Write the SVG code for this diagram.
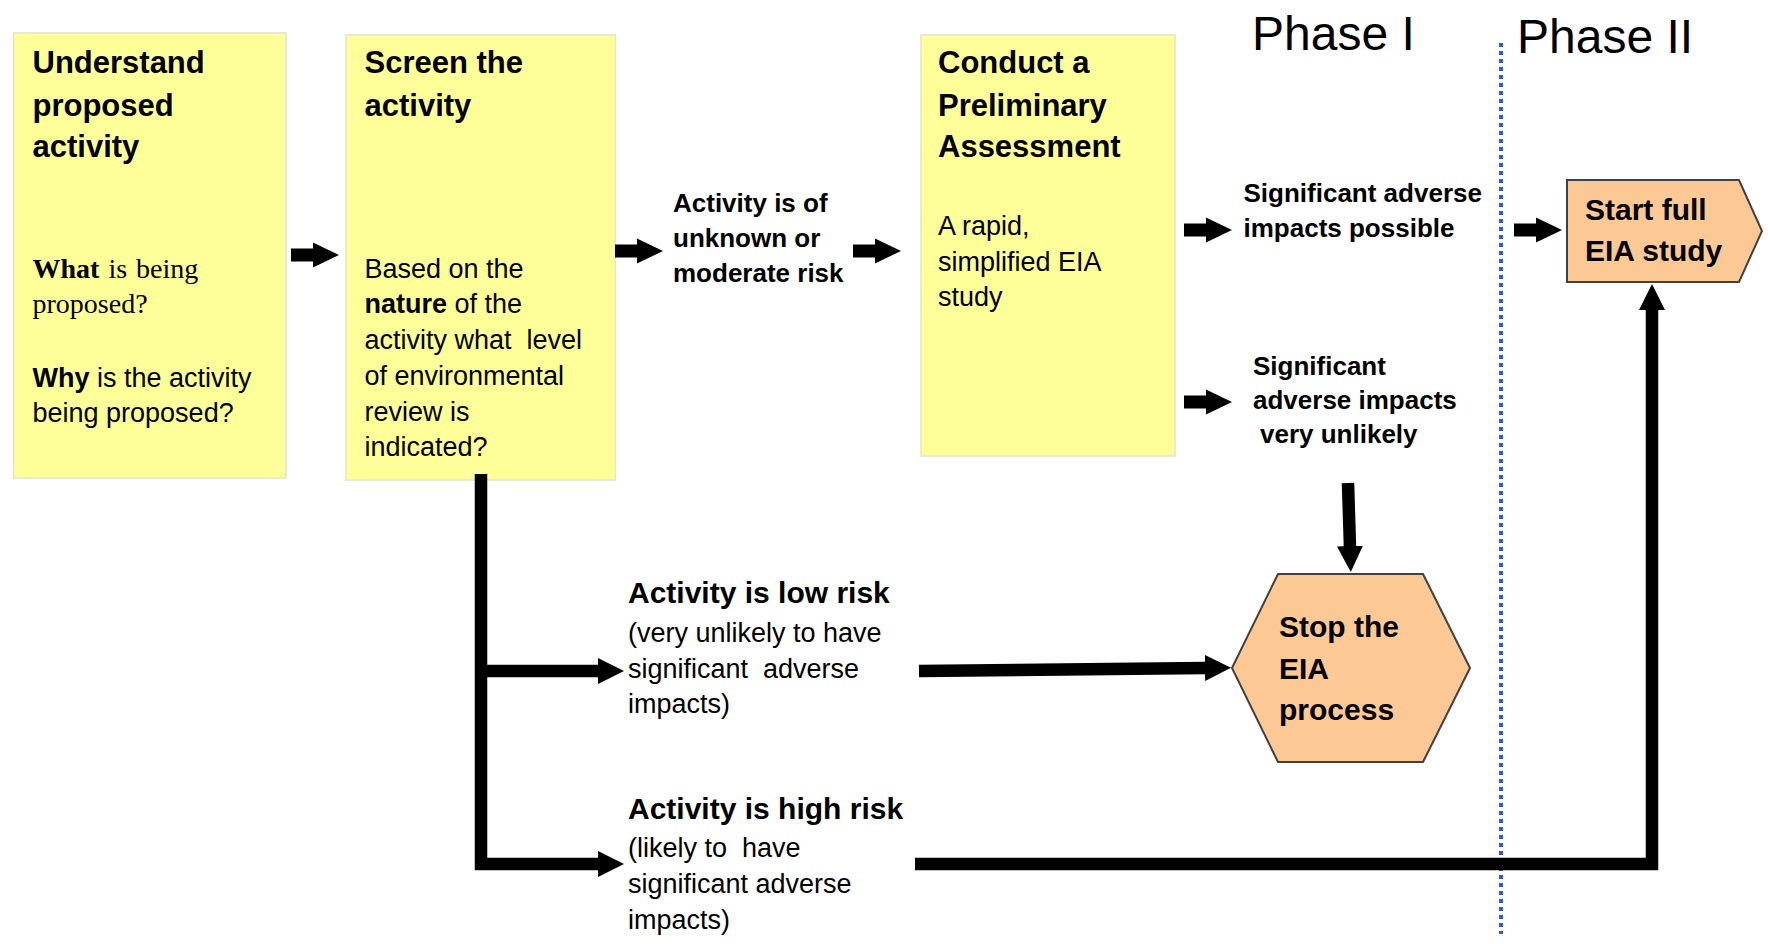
<svg xmlns="http://www.w3.org/2000/svg" width="1768" height="944" viewBox="0 0 1768 944">
<style>
.box{fill:#FFFF99;stroke:#E4E4C6;stroke-width:1.5}
.peach{fill:#FCC994;stroke:#404040;stroke-width:2}
text{font-family:'Liberation Sans',Arial,sans-serif;fill:#000}
.h{font-weight:bold;font-size:31px}
.h2{font-weight:bold;font-size:30px}
.b{font-size:27px}
.s{font-family:'Liberation Serif','Times New Roman',serif;font-size:28px}
.lb{font-weight:bold;font-size:26px}
.ph{font-size:48px}
.conn{fill:none;stroke:#000;stroke-width:12.5;stroke-linejoin:miter}
.sep{stroke:#2E5BD6;stroke-width:4;stroke-dasharray:4 4}
</style>
<defs>
<path id="sa" d="M0,-6.5 H22 V-12.5 L48,0 L22,12.5 V6.5 H0 Z" fill="#000"/>
<marker id="ah" markerUnits="userSpaceOnUse" markerWidth="26" markerHeight="26" viewBox="0 0 26 26" refX="1" refY="13" orient="auto"><path d="M0,0 L26,13 L0,26 Z" fill="#000"/></marker>
</defs>

<line id="phase-separator" class="sep" x1="1501" y1="43" x2="1501" y2="934"/>

<g id="phase1"><text class="ph" x="1252" y="50">Phase I</text></g>
<g id="phase2"><text class="ph" x="1517" y="53">Phase II</text></g>

<g id="understand">
<rect class="box" x="13.5" y="33" width="272.5" height="445"/>
<text class="h" x="32.5" y="73">Understand</text>
<text class="h" x="32.5" y="116">proposed</text>
<text class="h" x="32.5" y="157">activity</text>
<text class="s" x="32.5" y="278" word-spacing="2"><tspan font-weight="bold">What</tspan> is being</text>
<text class="s" x="32.5" y="313">proposed?</text>
<text class="b" x="32.5" y="387"><tspan font-weight="bold">Why</tspan> is the activity</text>
<text class="b" x="32.5" y="422">being proposed?</text>
</g>

<g id="screen">
<rect class="box" x="346" y="35" width="269.5" height="445"/>
<text class="h" x="364.5" y="73">Screen the</text>
<text class="h" x="364.5" y="116">activity</text>
<text class="b" x="364.5" y="278">Based on the</text>
<text class="b" x="364.5" y="313"><tspan font-weight="bold">nature</tspan> of the</text>
<text class="b" x="364.5" y="348.5" xml:space="preserve">activity what  level</text>
<text class="b" x="364.5" y="385">of environmental</text>
<text class="b" x="364.5" y="420.5">review is</text>
<text class="b" x="364.5" y="456">indicated?</text>
</g>

<g id="unknown-risk">
<text class="lb" x="673" y="211.5">Activity is of</text>
<text class="lb" x="673" y="246.5">unknown or</text>
<text class="lb" x="673" y="281.5">moderate risk</text>
</g>

<g id="preliminary">
<rect class="box" x="921" y="35" width="254" height="421"/>
<text class="h" x="938" y="73">Conduct a</text>
<text class="h" x="938" y="116">Preliminary</text>
<text class="h" x="938" y="157">Assessment</text>
<text class="b" x="938" y="235">A rapid,</text>
<text class="b" x="938" y="270.5">simplified EIA</text>
<text class="b" x="938" y="305.5">study</text>
</g>

<g id="impacts-possible">
<text class="lb" x="1243.5" y="201.5">Significant adverse</text>
<text class="lb" x="1243.5" y="237">impacts possible</text>
</g>

<g id="impacts-unlikely">
<text class="lb" x="1253" y="375">Significant</text>
<text class="lb" x="1253" y="409">adverse impacts</text>
<text class="lb" x="1260" y="443">very unlikely</text>
</g>

<g id="start-full">
<path class="peach" d="M1567,180 H1739 L1762,231 L1739,282 H1567 Z"/>
<text class="h2" x="1585" y="220">Start full</text>
<text class="h2" x="1585" y="261">EIA study</text>
</g>

<g id="stop">
<path class="peach" d="M1278,574 H1423 L1470,668 L1423,762 H1278 L1232,668 Z"/>
<text class="h2" x="1279" y="637">Stop the</text>
<text class="h2" x="1279" y="679">EIA</text>
<text class="h2" x="1279" y="720">process</text>
</g>

<g id="low-risk">
<text class="h2" x="628" y="603">Activity is low risk</text>
<text class="b" x="628" y="642">(very unlikely to have</text>
<text class="b" x="628" y="678" xml:space="preserve">significant  adverse</text>
<text class="b" x="628" y="713">impacts)</text>
</g>

<g id="high-risk">
<text class="h2" x="628" y="819">Activity is high risk</text>
<text class="b" x="628" y="857" xml:space="preserve">(likely to  have</text>
<text class="b" x="628" y="893">significant adverse</text>
<text class="b" x="628" y="929">impacts)</text>
</g>

<g id="connectors">
<use href="#sa" transform="translate(291,255)"/>
<use href="#sa" transform="translate(615,251)"/>
<use href="#sa" transform="translate(853,251)"/>
<use href="#sa" transform="translate(1184,230)"/>
<use href="#sa" transform="translate(1184,402)"/>
<use href="#sa" transform="translate(1514,230)"/>
<path class="conn" d="M481,474 V864 H599" marker-end="url(#ah)"/>
<path class="conn" d="M481,671 H599" marker-end="url(#ah)"/>
<path class="conn" d="M919,671 L1206,668" marker-end="url(#ah)"/>
<path class="conn" d="M915,864 H1652 V309" marker-end="url(#ah)"/>
<path class="conn" d="M1348,483 L1350,547" marker-end="url(#ah)"/>
</g>
</svg>
